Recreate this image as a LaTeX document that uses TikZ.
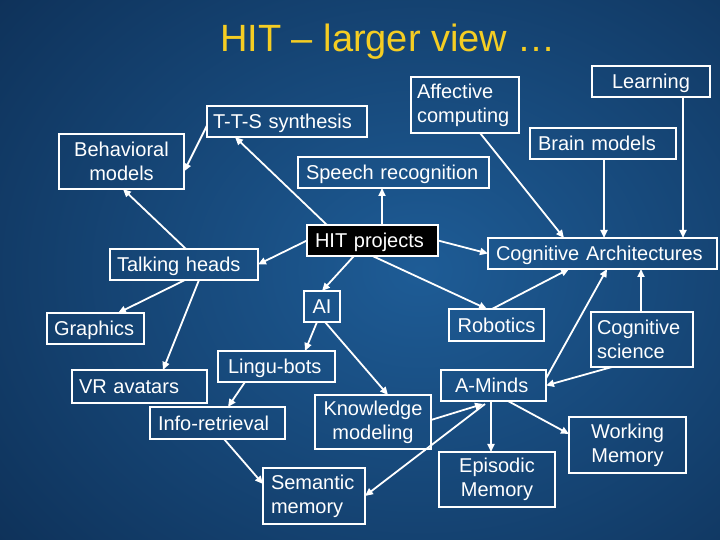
\documentclass[tikz,border=0pt]{standalone}
\usepackage{fontspec}
\setmainfont{Liberation Sans}
\usetikzlibrary{arrows.meta}
\definecolor{bgin}{RGB}{30,92,150}
\definecolor{bgout}{RGB}{4,22,50}
\definecolor{ttl}{RGB}{245,205,35}
\begin{document}
\begin{tikzpicture}[x=1pt,y=1pt,
  box/.style={draw=white, line width=1.8pt, text=white, font=\fontsize{20}{24}\selectfont, inner ysep=0pt, outer sep=0pt},
  one/.style={text height=15pt, text depth=0pt},
  arr/.style={draw=white, line width=1.8pt, -{Triangle[length=8pt,width=7pt]}}]
\useasboundingbox (0,0) rectangle (720,540);
\begin{scope}
  \clip (0,0) rectangle (720,540);
  \fill[bgout] (0,0) rectangle (720,540);
  \shade[inner color=bgin, outer color=bgout] (420,270) ellipse (900pt and 720pt);
\end{scope}
% title
\node[font=\fontsize{38}{44}\selectfont, text=ttl, anchor=base] (title) at (388,488) {HIT – larger view …};
% boxes
\node[box, one, text width=112pt, inner xsep=3pt, minimum height=31pt, align=center] (learn) at (651,458.5) {Learning};
\node[box, text width=96pt, inner xsep=6pt, minimum height=56pt, align=left] (affect) at (465,435) {Affective\\computing};
\node[box, one, text width=130pt, inner xsep=8pt, minimum height=31pt, align=left] (brain) at (603,396.5) {Brain models};
\node[box, one, text width=148pt, inner xsep=6pt, minimum height=31pt, align=left] (tts) at (287,418.5) {T-T-S synthesis};
\node[box, text width=119pt, inner xsep=3pt, minimum height=55pt, align=center] (behav) at (121.5,378.5) {Behavioral\\models};
\node[box, one, text width=175pt, inner xsep=8pt, minimum height=31pt, align=left] (speech) at (393.5,367.5) {Speech recognition};
\node[box, one, fill=black, text width=115pt, inner xsep=8pt, minimum height=31pt, align=left] (hit) at (372.5,299.5) {HIT projects};
\node[box, one, text width=213pt, inner xsep=8pt, minimum height=31pt, align=left] (cogarch) at (602.5,286.5) {Cognitive Architectures};
\node[box, one, text width=134pt, inner xsep=7pt, minimum height=31pt, align=left] (talk) at (184,275.5) {Talking heads};
\node[box, one, text width=36pt, inner xsep=0pt, minimum height=31pt, align=center] (ai) at (322,233.5) {AI};
\node[box, one, text width=89pt, inner xsep=3pt, minimum height=32pt, align=center] (robot) at (496.5,215) {Robotics};
\node[box, text width=90pt, inner xsep=6pt, minimum height=55pt, align=left] (cogsci) at (642,200.5) {Cognitive\\science};
\node[box, one, text width=83pt, inner xsep=7pt, minimum height=31pt, align=left] (graph) at (95.5,211.5) {Graphics};
\node[box, one, text width=97pt, inner xsep=10pt, minimum height=31pt, align=left] (lingu) at (276.5,173.5) {Lingu-bots};
\node[box, one, text width=121pt, inner xsep=7pt, minimum height=33pt, align=left] (vr) at (139.5,153.5) {VR avatars};
\node[box, one, text width=77pt, inner xsep=14pt, minimum height=31pt, align=left] (aminds) at (493.5,154.5) {A-Minds};
\node[box, one, text width=119pt, inner xsep=8pt, minimum height=32pt, align=left] (info) at (217.5,117) {Info-retrieval};
\node[box, text width=110pt, inner xsep=3pt, minimum height=54pt, align=center] (know) at (373,118) {Knowledge\\modeling};
\node[box, text width=110pt, inner xsep=3pt, minimum height=55pt, align=center] (episodic) at (497,60.5) {Episodic\\Memory};
\node[box, text width=111pt, inner xsep=3pt, minimum height=56pt, align=center] (working) at (627.5,95) {Working\\Memory};
\node[box, text width=86pt, inner xsep=8pt, minimum height=56pt, align=left] (semantic) at (314,44) {Semantic\\memory};
% connectors
\draw[arr] ([xshift=20pt]hit.north west) -- ([xshift=28pt]tts.south west);
\draw[arr] ([yshift=-4pt]tts.west) -- ([yshift=-10pt]behav.east);
\draw[arr] ([xshift=76pt]talk.north west) -- ([xshift=1.5pt]behav.south);
\draw[arr] (hit.west) -- (talk.east);
\draw[arr] ([xshift=9.5pt]hit.north) -- ([xshift=9.5pt]hit.north |- speech.south);
\draw[arr] ([xshift=-18.5pt]hit.south) -- (ai.north);
\draw[arr] (hit.east) -- (cogarch.west);
\draw[arr] (hit.south) -- ([xshift=-9.5pt]robot.north);
\draw[arr] ([xshift=-4.5pt]robot.north) -- ([xshift=81pt]cogarch.south west);
\draw[arr] ([xshift=69pt]affect.south west) -- ([xshift=76pt]cogarch.north west);
\draw[arr] ([xshift=1pt]brain.south) -- ([xshift=1pt]brain.south |- cogarch.north);
\draw[arr] ([xshift=32pt]learn.south) -- ([xshift=32pt]learn.south |- cogarch.north);
\draw[arr] ([yshift=7pt]aminds.east) -- ([xshift=119pt]cogarch.south west);
\draw[arr] ([xshift=-1pt]cogsci.north) -- ([xshift=-1pt]cogsci.north |- cogarch.south);
\draw[arr] ([xshift=21pt]cogsci.south west) -- (aminds.east);
\draw[arr] ([xshift=75pt]talk.south west) -- ([xshift=71pt]graph.north west);
\draw[arr] ([xshift=89pt]talk.south west) -- ([xshift=91pt]vr.north west);
\draw[arr] ([xshift=-5pt]ai.south) -- ([xshift=87pt]lingu.north west);
\draw[arr] ([xshift=3pt]ai.south) -- ([xshift=73pt]know.north west);
\draw[arr] ([xshift=27pt]lingu.south west) -- ([xshift=78pt]info.north west);
\draw[arr] ([xshift=74pt]info.south west) -- ([yshift=12pt]semantic.west);
\draw[arr] ([yshift=2pt]know.east) -- ([xshift=-10.5pt,yshift=-3pt]aminds.south);
\draw[arr] ([xshift=-8.5pt,yshift=-3pt]aminds.south) -- (semantic.east);
\draw[arr] ([xshift=-2.5pt]aminds.south) -- ([xshift=-2.5pt]aminds.south |- episodic.north);
\draw[arr] ([xshift=14.5pt]aminds.south) -- ([yshift=11pt]working.west);
\end{tikzpicture}
\end{document}
